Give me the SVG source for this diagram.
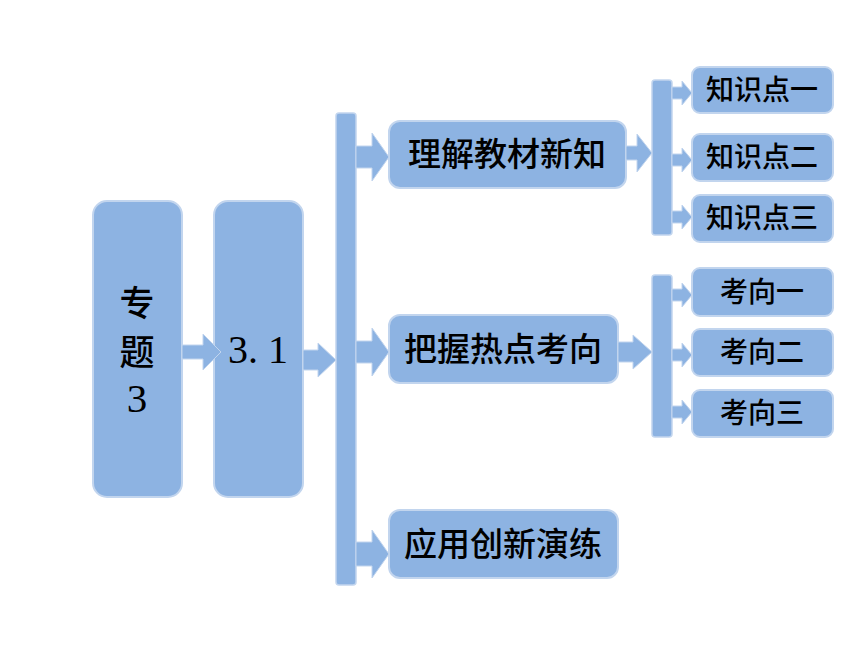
<svg xmlns="http://www.w3.org/2000/svg" width="860" height="645" viewBox="0 0 860 645">
<style>
.n{fill:#8DB3E2;stroke:#C2D5EE;stroke-width:2}
.bar{fill:#8DB3E2;stroke:#C2D5EE;stroke-width:1.5}
.a{fill:#8DB3E2;stroke:#C2D5EE;stroke-width:1}
.t{font-family:"Noto Sans CJK SC","Liberation Serif",serif;fill:#000;text-anchor:middle;font-weight:500}
.s{font-family:"Liberation Serif","Noto Sans CJK SC",serif;fill:#000;text-anchor:middle}
</style>
<rect width="860" height="645" fill="#fff"/>
<g id="nodes">
<g id="zhuanti"><rect class="n" x="93" y="201" width="89" height="296" rx="14"/>
<text class="t" x="137" y="316" font-size="35">专</text>
<text class="t" x="137" y="365" font-size="35">题</text>
<text class="s" x="137" y="412" font-size="41">3</text></g>
<g id="s31"><rect class="n" x="214" y="201" width="89" height="296" rx="14"/>
<text class="s" x="258" y="363" font-size="40">3. 1</text></g>
<g id="bar-main"><rect class="bar" x="336" y="113" width="20" height="472" rx="3"/></g>
<g id="b1"><rect class="n" x="389" y="121" width="237" height="67" rx="11"/>
<text class="t" x="507" y="166" font-size="33">理解教材新知</text></g>
<g id="b2"><rect class="n" x="389" y="315" width="229" height="68" rx="11"/>
<text class="t" x="503" y="361" font-size="33">把握热点考向</text></g>
<g id="b3"><rect class="n" x="389" y="510" width="229" height="68" rx="11"/>
<text class="t" x="503" y="556" font-size="33">应用创新演练</text></g>
<g id="bar-r1"><rect class="bar" x="652" y="80" width="20" height="155" rx="3"/></g>
<g id="bar-r2"><rect class="bar" x="652" y="275" width="20" height="162" rx="3"/></g>
<g id="k1"><rect class="n" x="692" y="67" width="141" height="46" rx="8"/><text class="t" x="762" y="100" font-size="28">知识点一</text></g>
<g id="k2"><rect class="n" x="692" y="134" width="141" height="47" rx="8"/><text class="t" x="762" y="167" font-size="28">知识点二</text></g>
<g id="k3"><rect class="n" x="692" y="195" width="141" height="47" rx="8"/><text class="t" x="762" y="228" font-size="28">知识点三</text></g>
<g id="x1"><rect class="n" x="692" y="268" width="141" height="48" rx="8"/><text class="t" x="762" y="302" font-size="28">考向一</text></g>
<g id="x2"><rect class="n" x="692" y="329" width="141" height="47" rx="8"/><text class="t" x="762" y="362" font-size="28">考向二</text></g>
<g id="x3"><rect class="n" x="692" y="390" width="141" height="47" rx="8"/><text class="t" x="762" y="423" font-size="28">考向三</text></g>
</g>
<g id="connectors">
<polygon class="a" points="182,345 203,345 203,334 221,352 203,370 203,359 182,359"/>
<polygon class="a" points="303,350 318,350 318,343 336,360 318,377 318,370 303,370"/>
<polygon class="a" points="356,146 372,146 372,133 389,157 372,181 372,168 356,168"/>
<polygon class="a" points="356,341 372,341 372,328 389,352 372,376 372,363 356,363"/>
<polygon class="a" points="356,542 372,542 372,530 389,554 372,578 372,566 356,566"/>
<polygon class="a" points="626,146 637,146 637,134 652,153 637,172 637,160 626,160"/>
<polygon class="a" points="618,342 633,342 633,335 652,352 633,369 633,362 618,362"/>
<polygon class="a" points="672,87 682,87 682,81 692,93 682,105 682,99 672,99"/>
<polygon class="a" points="672,154 682,154 682,148 692,160 682,172 682,166 672,166"/>
<polygon class="a" points="672,211 682,211 682,205 692,217 682,229 682,223 672,223"/>
<polygon class="a" points="672,289 682,289 682,283 692,295 682,307 682,301 672,301"/>
<polygon class="a" points="672,349 682,349 682,343 692,355 682,367 682,361 672,361"/>
<polygon class="a" points="672,406 682,406 682,400 692,412 682,424 682,418 672,418"/>
</g>
</svg>
